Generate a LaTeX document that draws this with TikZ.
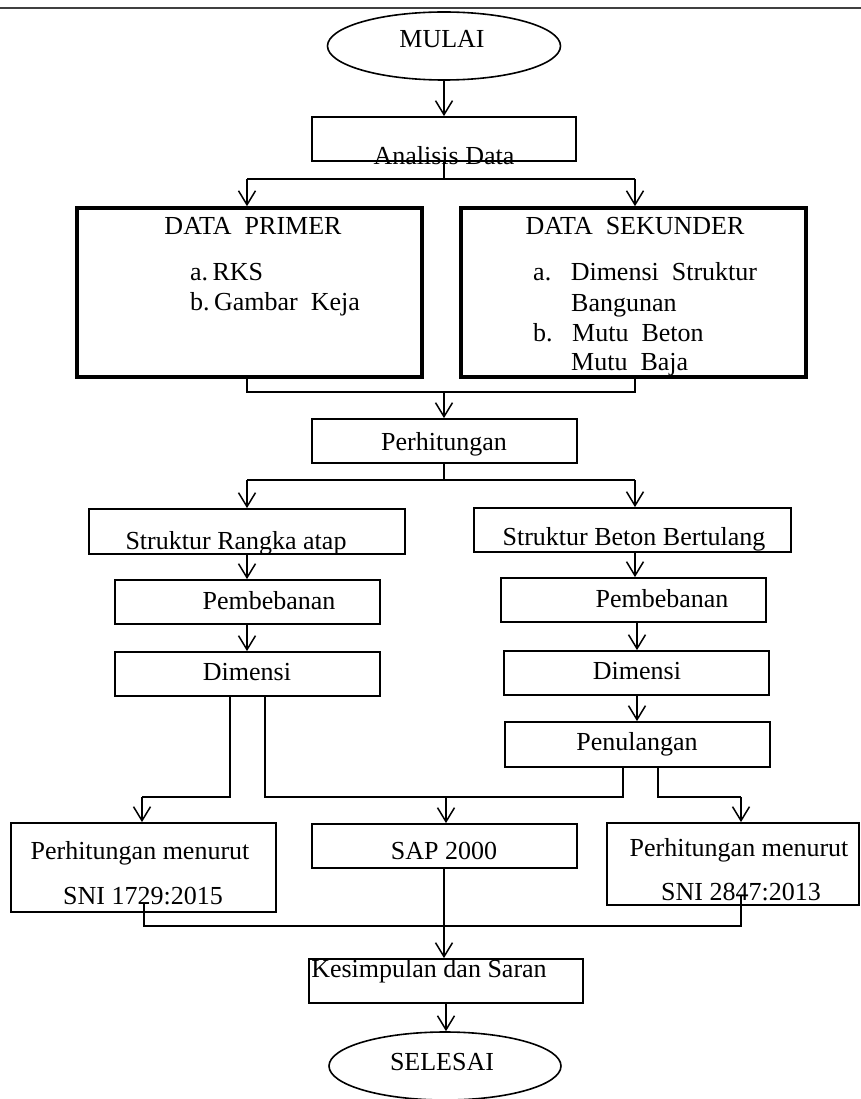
\documentclass[tikz,border=0pt]{standalone}
\usepackage{fontspec}
\setmainfont{Liberation Serif}
\usetikzlibrary{arrows.meta,shapes.geometric}
\begin{document}
\begin{tikzpicture}[x=1pt,y=-1pt,
  bx/.style={draw,line width=1.8pt,inner sep=0pt,rectangle},
  thickbx/.style={draw,line width=3.6pt,inner sep=0pt,rectangle},
  oval/.style={draw,line width=1.6pt,ellipse,inner sep=0pt},
  txt/.style={inner sep=0pt,anchor=base,font=\fontsize{26}{28}\selectfont},
  ltxt/.style={inner sep=0pt,anchor=base west,font=\fontsize{26}{28}\selectfont},
  con/.style={line width=1.3pt},
  arr/.style={line width=1.5pt,-{Straight Barb[length=14pt,width=17pt,line width=1.5pt]}}]
\useasboundingbox (0,0) rectangle (861,1099);
\fill[white] (0,0) rectangle (861,1099);
% top rule
\coordinate (tl) at (0,8);
\coordinate (tr) at (861,8);
\draw[line width=2.6pt,black!75] (tl) -- (tr);

% nodes
\node[oval,minimum width=233pt,minimum height=68pt] (mulai) at (444,46) {};
\node[bx,minimum width=264pt,minimum height=44pt] (ana) at (444,139) {};
\node[thickbx,minimum width=345pt,minimum height=169pt] (prim) at (249.5,292.5) {};
\node[thickbx,minimum width=345pt,minimum height=169pt] (sek) at (633.5,292.5) {};
\node[bx,minimum width=265pt,minimum height=44pt] (per) at (444.5,441) {};
\node[bx,minimum width=316pt,minimum height=45pt] (rang) at (247,531.5) {};
\node[bx,minimum width=317pt,minimum height=44pt] (beton) at (632.5,530) {};
\node[bx,minimum width=265pt,minimum height=44pt] (pemL) at (247.5,602) {};
\node[bx,minimum width=265pt,minimum height=44pt] (pemR) at (633.5,600) {};
\node[bx,minimum width=265pt,minimum height=44pt] (dimL) at (247.5,674) {};
\node[bx,minimum width=265pt,minimum height=44pt] (dimR) at (636.5,673) {};
\node[bx,minimum width=265pt,minimum height=45pt] (pen) at (637.5,744.5) {};
\node[bx,minimum width=265pt,minimum height=89pt] (sniL) at (143.5,867.5) {};
\node[bx,minimum width=265pt,minimum height=44pt] (sap) at (444.5,846) {};
\node[bx,minimum width=252pt,minimum height=82pt] (sniR) at (733,864) {};
\node[bx,minimum width=274pt,minimum height=44pt] (kes) at (446,981) {};
\node[oval,minimum width=232pt,minimum height=68pt] (selesai) at (445,1066) {};

% texts
\node[txt] (tmulai) at (442,48) {MULAI};
\node[txt] (tana) at (444,165) {Analisis Data};
\node[txt] (tprim) at (253,234) {DATA\ \ PRIMER};
\node[ltxt] (tp1) at (190,280) {a.\,RKS};
\node[ltxt] (tp2) at (190,310) {b.\,Gambar\ \ Keja};
\node[txt] (tsek) at (635,235) {DATA\ \ SEKUNDER};
\node[ltxt] (ts1) at (533,280) {a.\ \ \ Dimensi\ \ Struktur};
\node[ltxt] (ts2) at (571,311) {Bangunan};
\node[ltxt] (ts3) at (533,341) {b.\ \ \ Mutu\ \ Beton};
\node[ltxt] (ts4) at (571,370) {Mutu\ \ Baja};
\node[txt] (tper) at (444,450) {Perhitungan};
\node[txt] (trang) at (236,549) {Struktur Rangka atap};
\node[txt] (tbeton) at (634,545) {Struktur Beton Bertulang};
\node[txt] (tpemL) at (269,609) {Pembebanan};
\node[txt] (tpemR) at (662,607) {Pembebanan};
\node[txt] (tdimL) at (247,680) {Dimensi};
\node[txt] (tdimR) at (637,679) {Dimensi};
\node[txt] (tpen) at (637,750) {Penulangan};
\node[txt] (tsniL1) at (140,859) {Perhitungan menurut};
\node[txt] (tsniL2) at (143,904) {SNI 1729:2015};
\node[txt] (tsap) at (444,859) {SAP 2000};
\node[txt] (tsniR1) at (739,856) {Perhitungan menurut};
\node[txt] (tsniR2) at (741,900) {SNI 2847:2013};
\node[txt] (tkes) at (429,977) {Kesimpulan dan Saran};
\node[txt] (tsel) at (442,1070) {SELESAI};

% coordinates
\coordinate (j1) at (444,179);
\coordinate (j1L) at (247,179);
\coordinate (j1R) at (635,179);
\coordinate (j2) at (444,392);
\coordinate (j2L) at (247,392);
\coordinate (j2R) at (635,392);
\coordinate (j3) at (444,480);
\coordinate (j3L) at (247,480);
\coordinate (j3R) at (635,480);
\coordinate (cR) at (637,700);
\coordinate (dA) at (230,797);
\coordinate (dAL) at (142,797);
\coordinate (dB) at (265,797);
\coordinate (dBR) at (623,797);
\coordinate (dS) at (446,797);
\coordinate (pC) at (658,797);
\coordinate (pCR) at (741,797);
\coordinate (bL) at (144,926);
\coordinate (bR) at (741,926);

% connectors
\draw[arr] (mulai.south) -- (ana.north);
\draw[con] (ana.south) -- (j1);
\draw[con] (j1L) -- (j1R);
\draw[arr] (j1L) -- (j1L |- prim.north);
\draw[arr] (j1R) -- (j1R |- sek.north);
\draw[con] (j2L |- prim.south) -- (j2L) -- (j2R) -- (j2R |- sek.south);
\draw[arr] (j2) -- (j2 |- per.north);
\draw[con] (j3 |- per.south) -- (j3);
\draw[con] (j3L) -- (j3R);
\draw[arr] (j3L) -- (j3L |- rang.north);
\draw[arr] (j3R) -- (j3R |- beton.north);
\draw[arr] (rang.south -| j3L) -- (pemL.north -| j3L);
\draw[arr] (pemL.south -| j3L) -- (dimL.north -| j3L);
\draw[arr] (beton.south -| j3R) -- (pemR.north -| j3R);
\draw[arr] (pemR.south -| cR) -- (dimR.north -| cR);
\draw[arr] (dimR.south -| cR) -- (pen.north -| cR);
\draw[con] (dimL.south -| dA) -- (dA) -- (dAL);
\draw[arr] (dAL) -- (dAL |- sniL.north);
\draw[con] (dimL.south -| dB) -- (dB) -- (dBR) -- (dBR |- pen.south);
\draw[arr] (dS) -- (dS |- sap.north);
\draw[con] (pen.south -| pC) -- (pC) -- (pCR);
\draw[arr] (pCR) -- (pCR |- sniR.north);
\draw[con] ([yshift=9pt]sniL.south -| bL) -- (bL) -- (bR) -- ([yshift=10pt]sniR.south -| bR);
\draw[arr] (sap.south -| j2) -- (kes.north -| j2);
\draw[arr] (kes.south -| dS) -- (selesai.north -| dS);
\end{tikzpicture}
\end{document}
